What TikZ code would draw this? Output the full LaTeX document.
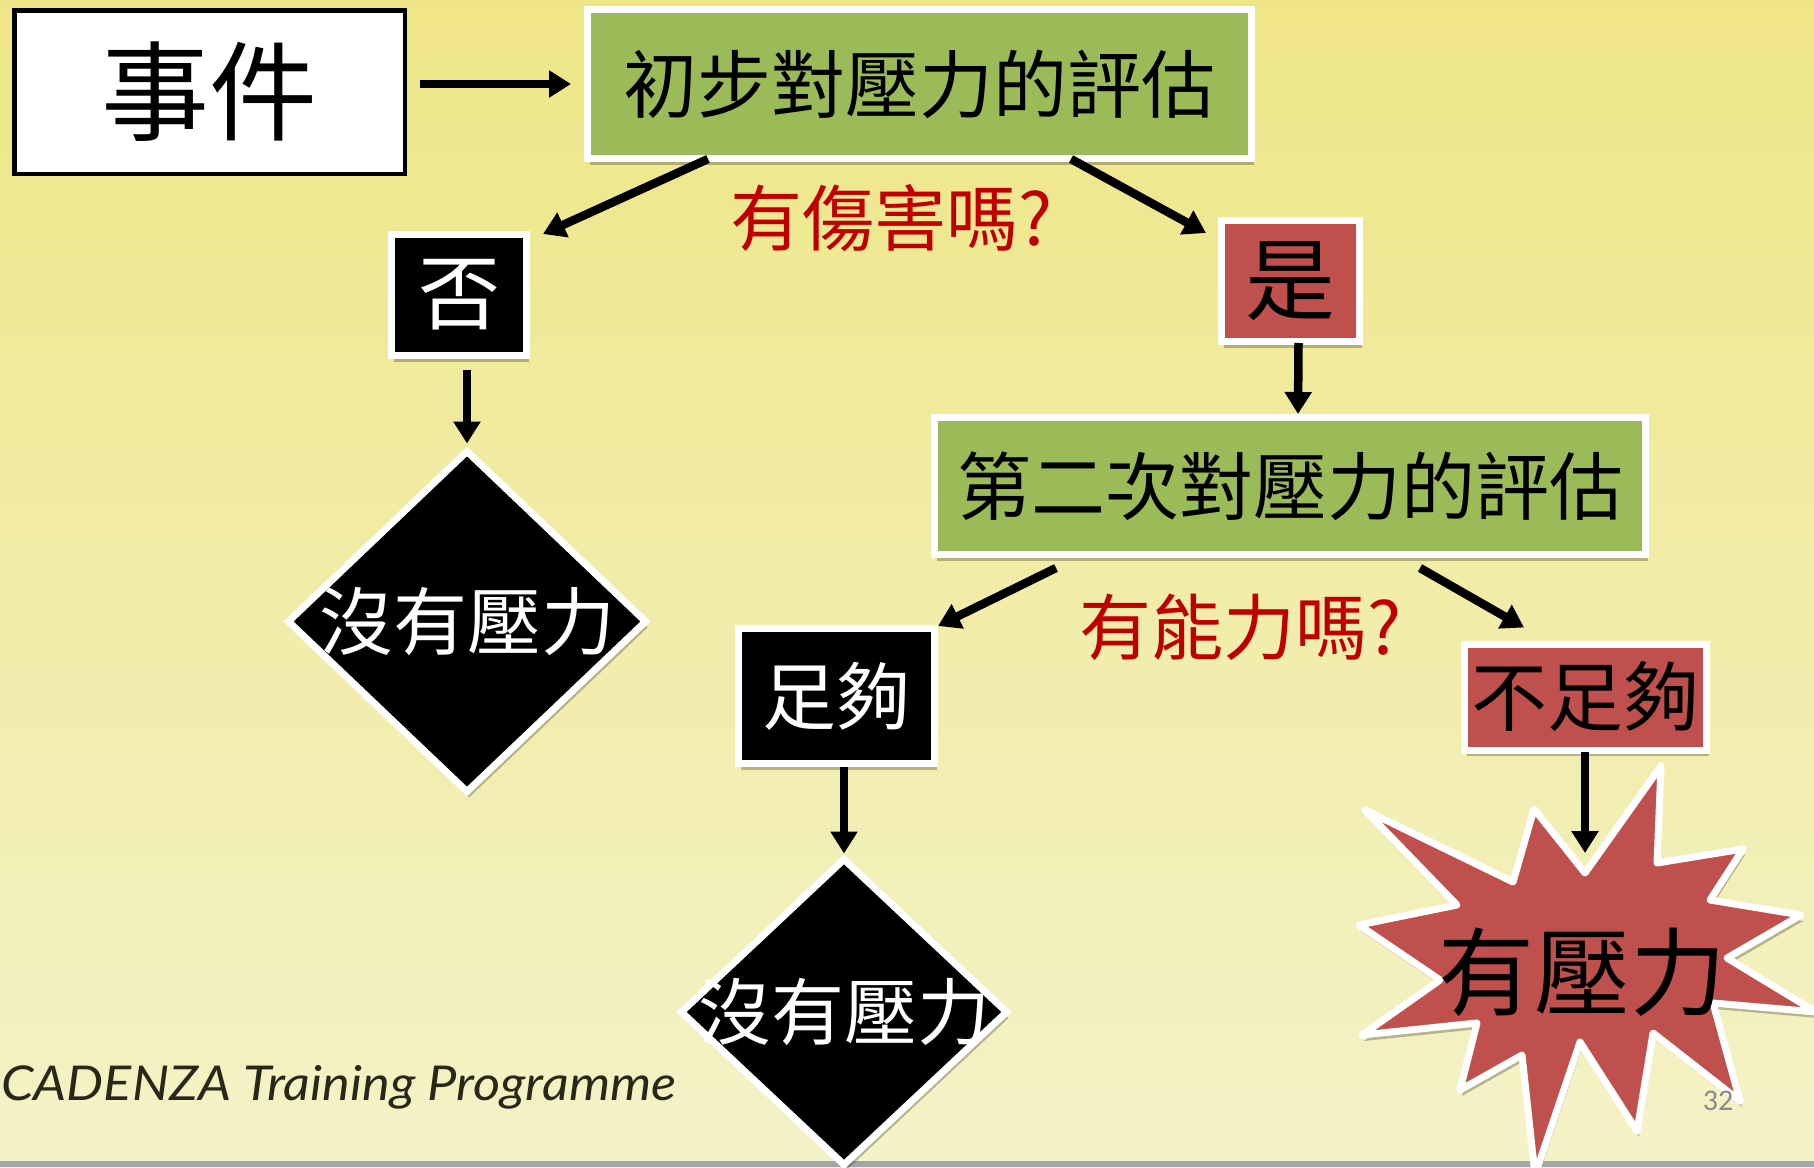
\documentclass[tikz,border=0pt]{standalone}
\usepackage{graphicx}
\usepackage{fontspec}
\setmainfont{Liberation Serif}
\newfontfamily\cjk{Noto Sans CJK TC}
\newfontfamily\handfont{Lato}
\newfontfamily\pagefont{Carlito}
\usetikzlibrary{arrows.meta,shapes.geometric,shadows,calc}

\definecolor{bgtop}{RGB}{238,230,134}
\definecolor{bgmid}{RGB}{240,237,155}
\definecolor{bgbot}{RGB}{244,242,200}
\definecolor{boxgreen}{RGB}{155,187,89}
\definecolor{boxred}{RGB}{192,80,77}
\definecolor{qred}{RGB}{192,0,0}
\definecolor{footc}{RGB}{40,40,25}
\definecolor{pagegrey}{RGB}{137,137,137}

\tikzset{
  shad/.style={drop shadow={shadow xshift=2pt,shadow yshift=-6pt,opacity=0.25,fill=black}},
  card/.style={rectangle, draw=white, line width=7pt, inner sep=0pt, shad},
  greencard/.style={card, fill=boxgreen, text=black},
  redcard/.style={card, fill=boxred, text=black},
  blackcard/.style={card, fill=black, text=white},
  endshape/.style={diamond, draw=white, line width=7pt, fill=black, text=white, inner sep=0pt, shad},
  cjkf/.style={font=\cjk\fontsize{#1}{#1}\selectfont},
  question/.style={text=qred, cjkf=72},
  arr/.style={line width=8.5pt, -{Triangle[length=22pt,width=26pt]}},
}

\begin{document}
\begin{tikzpicture}[x=1pt,y=-1pt]
\useasboundingbox (0,0) rectangle (1814,1167);
\clip (0,0) rectangle (1814,1167);
% background
\shade[top color=bgtop, middle color=bgmid, bottom color=bgbot] (0,0) rectangle (1814,1167);
\fill[black!35] (0,1161) rectangle (1814,1167);

% footer
\node[anchor=base west, inner sep=0pt, text=footc, font=\handfont\itshape\fontsize{48}{48}\selectfont] (foot) at (1,1100) {\scalebox{1.09}[1]{CADENZA Training Programme}};

% nodes
\node[rectangle, draw=black, line width=4.5pt, fill=white, minimum width=390.5pt, minimum height=163.5pt, inner sep=0pt, cjkf=108] (ev) at (209.5,92) {事件};
\node[greencard, minimum width=664pt, minimum height=149pt, cjkf=74] (g1) at (919.5,84) {初步對壓力的評估};
\node[question] (q1) at (892,218) {有傷害嗎?};
\node[blackcard, minimum width=135pt, minimum height=121pt, cjkf=82] (no) at (459,295) {否};
\node[redcard, minimum width=138pt, minimum height=121pt, cjkf=90] (yes) at (1290.5,281) {是};
\node[greencard, minimum width=711pt, minimum height=137pt, cjkf=74] (g2) at (1290,486) {第二次對壓力的評估};
\node[question] (q2) at (1241,627) {有能力嗎?};
\node[blackcard, minimum width=196pt, minimum height=135pt, cjkf=74] (enough) at (836.5,696) {足夠};
\node[redcard, minimum width=242pt, minimum height=106pt, cjkf=76] (ne) at (1585.5,697) {不足夠};

\node[endshape, minimum width=360pt, minimum height=343pt, cjkf=74] (d1) at (467,621.5) {\makebox[0pt]{\raisebox{-4pt}{沒有壓力}}};
\node[endshape, minimum width=328pt, minimum height=308pt, cjkf=73] (d2) at (844,1012) {\makebox[0pt]{\raisebox{-3pt}{沒有壓力}}};

% star
\filldraw[fill=boxred, draw=white, line width=7pt, line join=round, shad]
  (1365,810) -- (1513,882) -- (1534,809) -- (1585,873) -- (1661,766) -- (1657,863)
  -- (1743,849) -- (1710,900) -- (1801,915) -- (1727,958) -- (1816,1012) -- (1713,1003)
  -- (1740,1101) -- (1653,1033) -- (1637,1131) -- (1580,1042) -- (1535,1175) -- (1522,1055)
  -- (1460,1090) -- (1477,1023) -- (1362,1035) -- (1440,980) -- (1359,925) -- (1457,905) -- cycle;
\coordinate (startip) at (1585,853);
\node[cjkf=96, text=black] (stress) at (1582,972) {有壓力};

\node[text=pagegrey, font=\pagefont\fontsize{30}{30}\selectfont] (pg) at (1718,1101) {32};

% connectors
\draw[arr] ($(ev.east |- g1.west)+(13,0)$) -- ($(g1.west)+(-13,0)$);
\draw[arr] ($(g1.south west)+(124,-3)$) -- ($(no.north east)+(13,3)$);
\draw[arr] ($(g1.south east)+(-184,-3)$) -- ($(yes.north west)+(-12,16)$);
\draw[arr] ($(yes.south)+(8,-2)$) -- ($(g2.north)+(8,0)$);
\draw[arr] ($(d1.north |- no.south)+(0,11)$) -- ($(d1.north)+(0,-3)$);
\draw[arr] ($(g2.south west)+(125,10)$) -- ($(enough.north east)+(0,1)$);
\draw[arr] ($(g2.south east)+(-229,10)$) -- ($(ne.north west)+(63,-13)$);
\draw[arr] ($(d2.north |- enough.south)+(0,0)$) -- ($(d2.north)+(0,-1)$);
\draw[arr] ($(startip |- ne.south)+(0,-2)$) -- (startip);
\end{tikzpicture}
\end{document}
